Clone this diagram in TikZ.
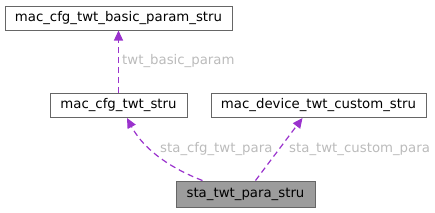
\documentclass[tikz,border=0pt]{standalone}
\usepackage{fontspec}
\setmainfont{DejaVu Sans}
\usetikzlibrary{arrows.meta}
\definecolor{edgepurple}{HTML}{9A32CD}
\definecolor{boxline}{HTML}{666666}
\definecolor{labelgrey}{HTML}{BBBBBB}
\begin{document}
\begin{tikzpicture}[x=1pt, y=-1pt,
  every node/.style={font=\fontsize{13.3}{15}\selectfont},
  cls/.style={draw=boxline, line width=1pt, minimum height=24pt, inner sep=0pt},
  mainbox/.style={cls, fill=boxline!65},
  rel/.style={draw=edgepurple, line width=1.2pt, dash pattern=on 6pt off 4pt,
    -{Triangle[length=10pt, width=9pt]}},
  rellabel/.style={text=labelgrey, anchor=west, inner sep=0pt}]
  \useasboundingbox (0,0) rectangle (435,212);

  \node[cls, minimum width=227pt] (basic) at (118.5,18) {mac\_cfg\_twt\_basic\_param\_stru};
  \node[cls, minimum width=137pt] (cfg) at (118.5,105.5) {mac\_cfg\_twt\_stru};
  \node[cls, minimum width=215pt] (custom) at (318.5,105.5) {mac\_device\_twt\_custom\_stru};
  \node[mainbox, minimum width=139pt, minimum height=26pt] (sta) at (245.5,194) {sta\_twt\_para\_stru};

  \draw[rel] (cfg.north) -- (basic.south);
  \node[rellabel] (lbasic) at (122,61) {twt\_basic\_param};

  \draw[rel] ([xshift=27pt]sta.north west) .. controls (175,170) and (145,152) .. ([xshift=8.5pt]cfg.south);
  \node[rellabel] (lcfg) at (160,149) {sta\_cfg\_twt\_para};

  \draw[rel] ([xshift=10pt]sta.north) -- ([xshift=-16pt]custom.south);
  \node[rellabel] (lcustom) at (289,149) {sta\_twt\_custom\_para};
\end{tikzpicture}
\end{document}
